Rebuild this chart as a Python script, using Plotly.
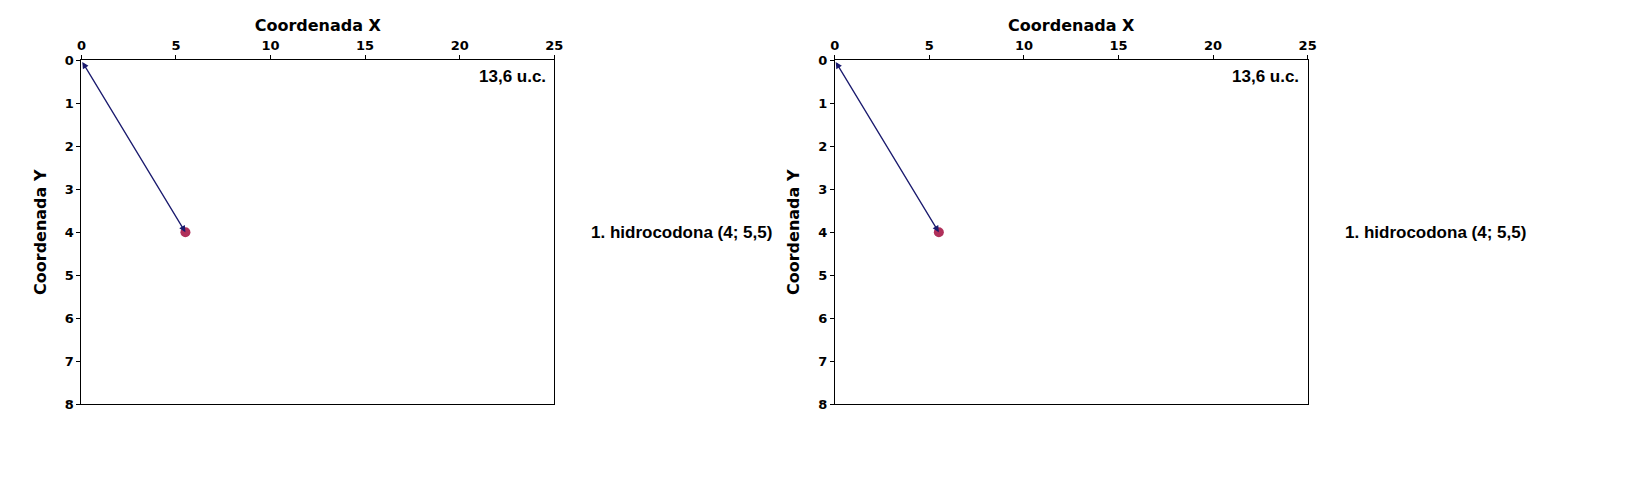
import plotly.graph_objects as go

point_x = [5.5]
point_y = [4]
point_label = "1. hidrocodona (4; 5,5)"
distance_label = "13,6 u.c."
x_ticks = [0, 5, 10, 15, 20, 25]
y_ticks = [0, 1, 2, 3, 4, 5, 6, 7, 8]

W, H = 1614, 464
fig = go.Figure()
domains = [((77 - 8) / W, (554 - 8) / W), ((837 - 8) / W, (1314 - 8) / W)]
ydom = (1 - (410 - 8) / H, 1 - (55 - 8) / H)
font = dict(family="DejaVu Sans", size=13, color="black")

for i, dom in enumerate(domains, start=1):
    sx = "" if i == 1 else str(i)
    fig.add_trace(go.Scatter(x=point_x, y=point_y, mode="markers",
                             marker=dict(color="#b0305a", size=10),
                             xaxis="x" + sx, yaxis="y" + sx, showlegend=False))
    axis_common = dict(showgrid=False, zeroline=False, showline=True, linecolor="black",
                       mirror=True, ticks="outside", ticklen=4, tickcolor="black",
                       tickfont=dict(family="DejaVu Sans", size=13, color="black"))
    fig.layout["xaxis" + sx] = dict(domain=list(dom), range=[0, 25], tickvals=x_ticks,
                                    ticktext=["<b>%d</b>" % v for v in x_ticks],
                                    side="top", anchor="y" + sx,
                                    title=dict(text="<b>Coordenada X</b>", font=dict(family="DejaVu Sans", size=16), standoff=2),
                                    **axis_common)
    fig.layout["yaxis" + sx] = dict(domain=list(ydom), range=[8, 0], tickvals=y_ticks,
                                    ticktext=["<b>%d</b>" % v for v in y_ticks],
                                    anchor="x" + sx,
                                    title=dict(text="<b>Coordenada Y</b>", font=dict(family="DejaVu Sans", size=16), standoff=14),
                                    **axis_common)
    fig.add_annotation(x=point_x[0], y=point_y[0], ax=0, ay=0, xref="x" + sx, yref="y" + sx,
                       axref="x" + sx, ayref="y" + sx, text="", showarrow=True,
                       arrowhead=2, startarrowhead=2, arrowside="end+start",
                       arrowsize=1, arrowwidth=1.3, arrowcolor="#1a1a6e")
    fig.add_annotation(x=dom[1] - 0.004, y=ydom[1] - 0.01, xref="paper", yref="paper",
                       xanchor="right", yanchor="top", showarrow=False,
                       text="<b>" + distance_label + "</b>",
                       font=dict(family="Liberation Sans", size=17, color="black"))
    fig.add_annotation(x=dom[1] + 0.022, y=point_y[0], xref="paper", yref="y" + sx,
                       xanchor="left", yanchor="middle", showarrow=False,
                       text="<b>" + point_label + "</b>",
                       font=dict(family="Liberation Sans", size=17, color="black"))

fig.update_layout(width=W, height=H, margin=dict(l=0, r=0, t=0, b=0),
                  plot_bgcolor="white", paper_bgcolor="white", font=font)
fig.write_html("out.html")
